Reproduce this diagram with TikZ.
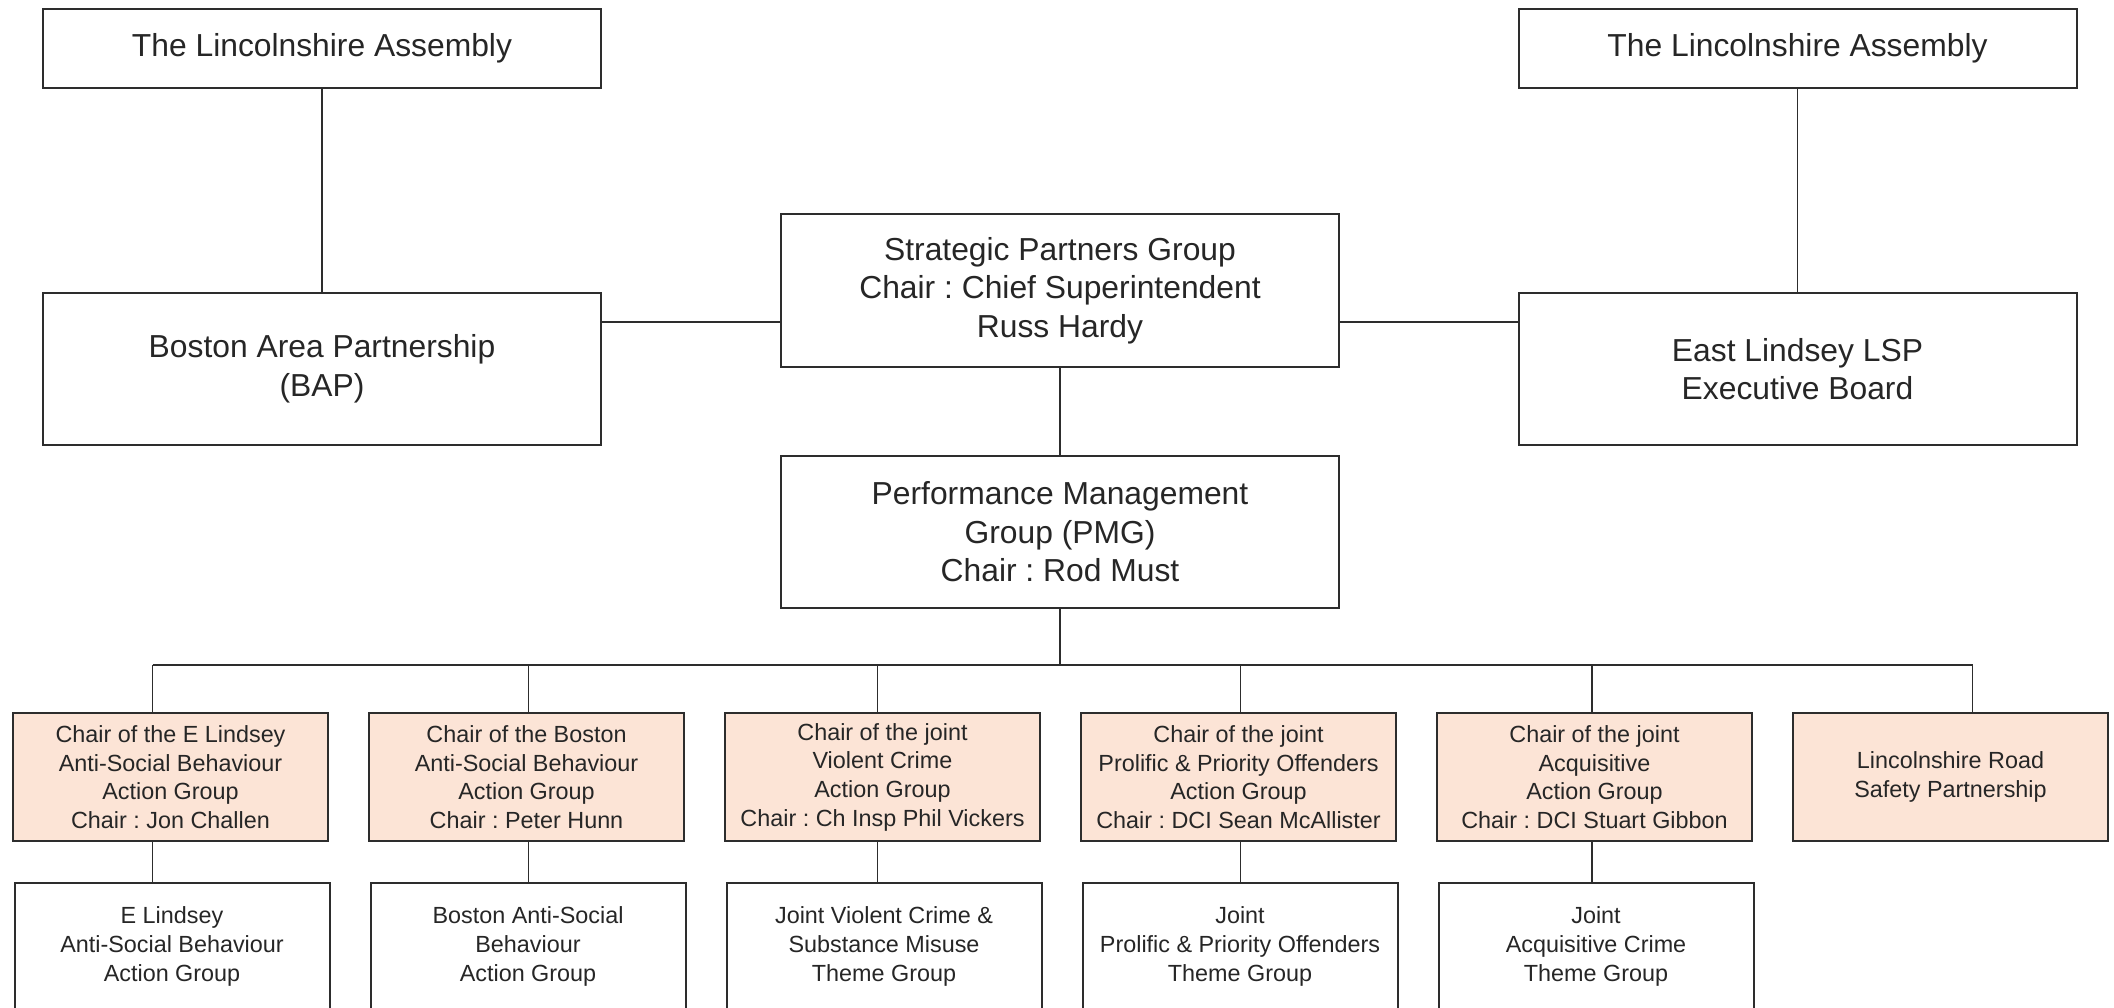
\documentclass[tikz,border=0pt]{standalone}
\usepackage{fontspec}
\setmainfont{Liberation Sans}
\usetikzlibrary{positioning,calc}
\frenchspacing

\definecolor{actfill}{RGB}{252,228,214}
\definecolor{linegrey}{RGB}{45,45,45}

\tikzset{
  bigbox/.style={rectangle, draw=linegrey, line width=.04cm, minimum width=11.16cm, minimum height=3.05cm, align=center, text=black!85, inner sep=0, font=\fontsize{18.1}{21.9}\selectfont},
  topbox/.style={bigbox, minimum height=1.58cm},
  actbox/.style={rectangle, draw=linegrey, fill=actfill, line width=.04cm, minimum width=6.3cm, minimum height=2.56cm, align=center, text=black!85, inner sep=0, font=\fontsize{13.3}{16.3}\selectfont},
  themebox/.style={actbox, fill=white, minimum height=2.54cm},
  tie/.style={draw=linegrey, line width=.035cm}
}

\begin{document}
\begin{tikzpicture}
\useasboundingbox (0,0) rectangle (42.28cm,-20.16cm);
\clip (0,0) rectangle (42.28cm,-20.16cm);

% top row
\node (asmL) at (6.44cm,-0.97cm) [topbox] {The Lincolnshire Assembly};
\node (asmR) at (35.95cm,-0.97cm) [topbox] {The Lincolnshire Assembly};

\node (bap) at (6.44cm,-7.38cm) [bigbox] {Boston Area Partnership\\(BAP)};
\node (elsp) at (35.95cm,-7.38cm) [bigbox] {East Lindsey LSP\\Executive Board};

\node (spg) at (21.2cm,-5.81cm) [bigbox] {Strategic Partners Group\\Chair : Chief Superintendent\\Russ Hardy};
\node (pmg) at (21.2cm,-10.64cm) [bigbox] {Performance Management\\Group (PMG)\\Chair : Rod Must};

% action groups
\node (actA) at (3.41cm,-15.54cm) [actbox] {Chair of the E Lindsey\\Anti-Social Behaviour\\Action Group\\Chair : Jon Challen};
\node (actB) at (10.53cm,-15.54cm) [actbox] {Chair of the Boston\\Anti-Social Behaviour\\Action Group\\Chair : Peter Hunn};
\node (actC) at (17.65cm,-15.54cm) [actbox] {Chair of the joint\\Violent Crime\\Action Group\\Chair : Ch Insp Phil Vickers};
\node (actD) at (24.77cm,-15.54cm) [actbox] {Chair of the joint\\Prolific \& Priority Offenders\\Action Group\\Chair : DCI Sean McAllister};
\node (actE) at (31.89cm,-15.54cm) [actbox] {Chair of the joint\\Acquisitive\\Action Group\\Chair : DCI Stuart Gibbon};
\node (actF) at (39.01cm,-15.54cm) [actbox] {Lincolnshire Road\\Safety Partnership};

% theme groups
\node (thmA) at (3.44cm,-18.93cm) [themebox] {E Lindsey\\Anti-Social Behaviour\\Action Group};
\node (thmB) at (10.56cm,-18.93cm) [themebox] {Boston Anti-Social\\Behaviour\\Action Group};
\node (thmC) at (17.68cm,-18.93cm) [themebox] {Joint Violent Crime \&\\Substance Misuse\\Theme Group};
\node (thmD) at (24.80cm,-18.93cm) [themebox] {Joint\\Prolific \& Priority Offenders\\Theme Group};
\node (thmE) at (31.92cm,-18.93cm) [themebox] {Joint\\Acquisitive Crime\\Theme Group};

% links
\coordinate (tieY) at (0,-6.44cm);
\draw [tie] (bap.east |- tieY) -- (spg.west |- tieY);
\draw [tie] (spg.east |- tieY) -- (elsp.west |- tieY);
\draw [tie] (asmL) -- (bap);
\draw [tie] (asmR) -- (elsp);
\draw [tie] (spg) -- (pmg);

\coordinate (bus) at (0,-13.30cm);
\coordinate (dropA) at ([xshift=-.36cm]actA.north);
\coordinate (dropB) at ([xshift=.04cm]actB.north);
\coordinate (dropC) at ([xshift=-.1cm]actC.north);
\coordinate (dropD) at ([xshift=.04cm]actD.north);
\coordinate (dropE) at ([xshift=-.05cm]actE.north);
\coordinate (dropF) at ([xshift=.44cm]actF.north);

\draw [tie] (pmg.south) -- (pmg.south |- bus);
\draw [tie] (dropA |- bus) -- (dropF |- bus);
\draw [tie] (dropA |- bus) -- (dropA);
\draw [tie] (dropB |- bus) -- (dropB);
\draw [tie] (dropC |- bus) -- (dropC);
\draw [tie] (dropD |- bus) -- (dropD);
\draw [tie] (dropE |- bus) -- (dropE);
\draw [tie] (dropF |- bus) -- (dropF);

\draw [tie] (dropA |- actA.south) -- (dropA |- thmA.north);
\draw [tie] (dropB |- actB.south) -- (dropB |- thmB.north);
\draw [tie] (dropC |- actC.south) -- (dropC |- thmC.north);
\draw [tie] (dropD |- actD.south) -- (dropD |- thmD.north);
\draw [tie] (dropE |- actE.south) -- (dropE |- thmE.north);

\end{tikzpicture}
\end{document}
